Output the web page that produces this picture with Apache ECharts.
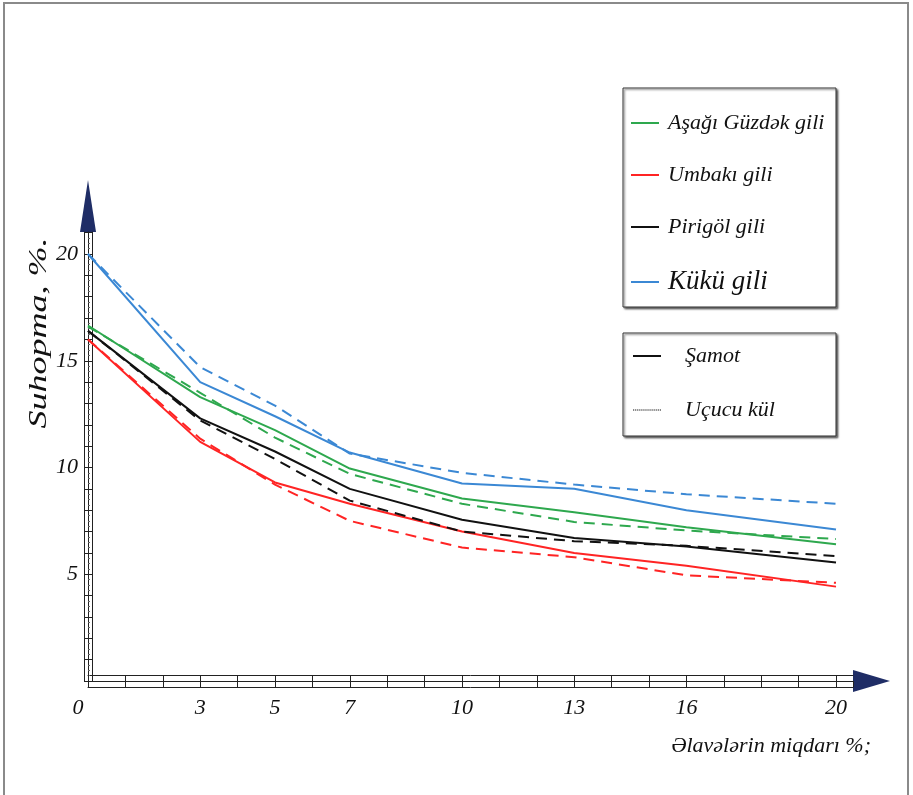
<!DOCTYPE html>
<html>
<head>
<meta charset="utf-8">
<script src="https://cdn.jsdelivr.net/npm/echarts@6/dist/echarts.min.js"></script>
<style>
  html, body { margin: 0; padding: 0; background: #fff; }
  #chart { width: 913px; height: 795px; }
</style>
</head>
<body>
<div id="chart"></div>
<script>
// x points (additive amount, %) and the labelled ticks
const xValues = [0, 3, 5, 7, 10, 13, 16, 20]
const xTickLabels = [0, 3, 5, 7, 10, 13, 16, 20]
const yTickLabels = [5, 10, 15, 20]

// shrinkage, % — solid = Şamot, dashed = Uçucu kül
const guzdekSamot = [16.65, 13.3, 11.75, 9.95, 8.55, 7.9, 7.2, 6.4]
const guzdekKul = [16.6, 13.5, 11.4, 9.7, 8.3, 7.45, 7.05, 6.65]
const umbakiSamot = [16.0, 11.2, 9.3, 8.3, 7.0, 6.0, 5.4, 4.42]
const umbakiKul = [16.0, 11.35, 9.2, 7.5, 6.25, 5.8, 4.95, 4.6]
const pirigolSamot = [16.4, 12.3, 10.75, 9.0, 7.55, 6.7, 6.3, 5.55]
const pirigolKul = [16.4, 12.2, 10.4, 8.45, 7.0, 6.55, 6.33, 5.85]
const kukuSamot = [20.0, 14.0, 12.4, 10.7, 9.25, 9.0, 8.0, 7.1]
const kukuKul = [20.0, 14.7, 12.9, 10.65, 9.75, 9.2, 8.75, 8.3]

const clays = [
  { name: 'Aşağı Güzdək gili', color: '#2ea84e', samot: guzdekSamot, kul: guzdekKul },
  { name: 'Umbakı gili', color: '#ff2424', samot: umbakiSamot, kul: umbakiKul },
  { name: 'Pirigöl gili', color: '#111111', samot: pirigolSamot, kul: pirigolKul },
  { name: 'Kükü gili', color: '#3b88d4', samot: kukuSamot, kul: kukuKul }
]

const serif = 'Liberation Serif'
const ink = '#111'
const navy = '#1f2d66'
const rail = '#222'
const pts = arr => xValues.map((x, i) => [x, arr[i]])

// pixel scale of the reference: 37.4 px per x unit, 21.35 px per y unit
const xMax = 765 / 37.4
const yMax = 449 / 21.35

const series = []
clays.forEach(c => {
  series.push({
    name: c.name, type: 'line', data: pts(c.samot), symbol: 'none',
    lineStyle: { color: c.color, width: 2 }, itemStyle: { color: c.color }
  })
  series.push({
    name: c.name + ' — Uçucu kül', type: 'line', data: pts(c.kul), symbol: 'none',
    lineStyle: { color: c.color, width: 2, type: [11, 7] }, itemStyle: { color: c.color }
  })
})
// legend-only entries for the additive type
series.push({ name: 'Şamot', type: 'line', data: [], symbol: 'none', lineStyle: { color: ink, width: 2 }, itemStyle: { color: ink } })
series.push({ name: 'Uçucu kül', type: 'line', data: [], symbol: 'none', lineStyle: { color: ink, width: 2, type: [2, 1] }, itemStyle: { color: ink } })

const line = { show: true, onZero: false, lineStyle: { color: rail, width: 1 } }
const hidden = (gridIndex, position) => ({ type: 'value', gridIndex, position, show: false, min: 0, max: 1 })
const plain = { axisLabel: { show: false }, axisTick: { show: false }, splitLine: { show: false } }
const dots = 'path://' + Array.from({ length: 14 }, (_, i) => `M${i * 2},0h1.2v1h-1.2z`).join(' ')

const chart = echarts.init(document.getElementById('chart'))
chart.setOption({
  animation: false,
  backgroundColor: '#fff',
  grid: [
    { left: 88, right: 60, top: 232, bottom: 114 },     // data, middle rails
    { left: 88, right: 41.5, top: 206, bottom: 114 },   // arrow heads
    { left: 88, right: 60, top: 232, bottom: 120 },     // upper x rail
    { left: 92, right: 60, top: 232, bottom: 114 }      // inner y rail
  ],
  xAxis: [
    {
      type: 'value', gridIndex: 0, position: 'bottom', min: 0, max: xMax, interval: 1, z: 3,
      axisLine: line, splitLine: { show: false },
      axisTick: { show: true, inside: true, length: 6, lineStyle: { color: rail } },
      axisLabel: {
        margin: 16, fontFamily: serif, fontStyle: 'italic', fontSize: 22, color: ink,
        showMaxLabel: false,
        formatter: v => v === 0 ? '{z|0}' : (xTickLabels.includes(v) ? String(v) : ''),
        rich: { z: { fontFamily: serif, fontStyle: 'italic', fontSize: 22, color: ink, padding: [0, 20, 0, 0] } }
      }
    },
    {
      type: 'value', gridIndex: 0, position: 'bottom', min: 0, max: xMax, interval: 1, offset: 6, z: 3,
      axisLine: line, axisLabel: { show: false }, splitLine: { show: false },
      axisTick: { show: true, inside: true, length: 6, lineStyle: { color: rail } }
    },
    {
      type: 'value', gridIndex: 1, position: 'bottom', min: 0, max: 1, z: 1,
      axisLine: { show: true, onZero: false, symbol: ['none', 'triangle'], symbolSize: [22, 37], lineStyle: { color: navy, width: 1 } },
      ...plain
    },
    { type: 'value', gridIndex: 2, position: 'bottom', min: 0, max: xMax, z: 3, axisLine: line, ...plain },
    hidden(3, 'bottom')
  ],
  yAxis: [
    {
      type: 'value', gridIndex: 0, position: 'left', min: 0, max: yMax, interval: 1, z: 3,
      axisLine: line, splitLine: { show: false },
      axisTick: { show: true, inside: true, length: 4, lineStyle: { color: rail } },
      minorTick: { show: true, splitNumber: 4, length: 2, lineStyle: { color: '#666' } },
      axisLabel: {
        margin: 10, fontFamily: serif, fontStyle: 'italic', fontSize: 22, color: ink,
        showMaxLabel: false,
        formatter: v => yTickLabels.includes(v) ? String(v) : ''
      }
    },
    {
      type: 'value', gridIndex: 0, position: 'left', min: 0, max: yMax, interval: 1, offset: 4, z: 3,
      axisLine: line, axisLabel: { show: false }, splitLine: { show: false },
      axisTick: { show: true, inside: true, length: 4, lineStyle: { color: rail } }
    },
    {
      type: 'value', gridIndex: 1, position: 'left', min: 0, max: 1, z: 1,
      axisLine: { show: true, onZero: false, symbol: ['none', 'triangle'], symbolSize: [16, 52], lineStyle: { color: navy, width: 1 } },
      ...plain
    },
    hidden(2, 'left'),
    { type: 'value', gridIndex: 3, position: 'left', min: 0, max: yMax, z: 3, axisLine: line, ...plain }
  ],
  legend: [
    {
      orient: 'vertical', left: 631, top: 109, padding: 0, icon: 'rect',
      itemWidth: 28, itemHeight: 2, itemGap: 24,
      textStyle: { fontFamily: serif, fontStyle: 'italic', fontSize: 22, color: ink, lineHeight: 28, padding: [0, 0, 0, 4] },
      data: clays.map(c => c.name === 'Kükü gili'
        ? { name: c.name, textStyle: { fontSize: 27, lineHeight: 34 } }
        : { name: c.name })
    },
    {
      orient: 'vertical', left: 633, top: 342, padding: 0, icon: 'rect',
      itemWidth: 28, itemHeight: 2, itemGap: 26,
      textStyle: { fontFamily: serif, fontStyle: 'italic', fontSize: 22, color: ink, lineHeight: 28, padding: [0, 0, 0, 19] },
      data: [{ name: 'Şamot' }, { name: 'Uçucu kül', icon: dots }]
    }
  ],
  graphic: [
    { type: 'rect', shape: { x: 4, y: 3, width: 904, height: 800 }, style: { fill: 'none', stroke: '#8a8a8a', lineWidth: 2 }, silent: true },
    { type: 'rect', shape: { x: 623, y: 88, width: 213, height: 219 }, style: { fill: '#fff', stroke: '#333', lineWidth: 1, shadowColor: 'rgba(0,0,0,0.55)', shadowBlur: 2, shadowOffsetX: 1.5, shadowOffsetY: 1.5 }, silent: true },
    { type: 'rect', shape: { x: 623, y: 333, width: 213, height: 103 }, style: { fill: '#fff', stroke: '#333', lineWidth: 1, shadowColor: 'rgba(0,0,0,0.55)', shadowBlur: 2, shadowOffsetX: 1.5, shadowOffsetY: 1.5 }, silent: true },
    { type: 'text', x: 39, y: 333, rotation: Math.PI / 2, scaleX: 1.44, silent: true,
      style: { text: 'Suhopma, %.', fontFamily: serif, fontStyle: 'italic', fontSize: 25, fill: ink, align: 'center', verticalAlign: 'middle' } },
    { type: 'text', x: 871, y: 746, silent: true,
      style: { text: 'Əlavələrin miqdarı %;', fontFamily: serif, fontStyle: 'italic', fontSize: 22, fill: ink, align: 'right', verticalAlign: 'middle' } }
  ],
  series
})
</script>
</body>
</html>
